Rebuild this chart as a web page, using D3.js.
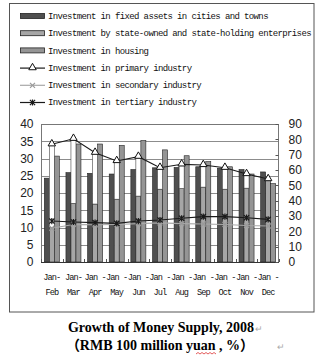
<!DOCTYPE html>
<html>
<head>
<meta charset="utf-8">
<script src="https://cdn.jsdelivr.net/npm/d3@7/dist/d3.min.js"></script>
<style>
    html, body { margin: 0; padding: 0; background: #fff; }
    svg { display: block; }
</style>
</head>
<body>
<div id="chart"></div>
<script>
/*globals d3 */
var categories = ["Jan-Feb", "Jan-Mar", "Jan-Apr", "Jan-May", "Jan-Jun", "Jan-Jul",
                  "Jan-Aug", "Jan-Sep", "Jan-Oct", "Jan-Nov", "Jan-Dec"];
var tickLine1 = ["Jan-", "Jan-", "Jan -", "Jan -", "Jan -", "Jan -",
                 "Jan -", "Jan -", "Jan -", "Jan -", "Jan -"];
var tickLine2 = ["Feb", "Mar", "Apr", "May", "Jun", "Jul",
                 "Aug", "Sep", "Oct", "Nov", "Dec"];

// bars, left axis (%)
var fixedAssets = [24.3, 25.9, 25.7, 25.5, 26.8, 27.3, 27.4, 27.6, 27.2, 26.8, 26.1];
var stateOwned  = [10.0, 17.0, 16.8, 18.2, 19.1, 21.1, 21.3, 21.7, 21.1, 21.4, 24.0];
var housing     = [30.7, 34.2, 34.2, 33.8, 35.2, 32.5, 30.8, 29.1, 27.6, 25.5, 22.7];

// lines, right axis (%)
var primary   = [76.8, 80.4, 71.3, 65.9, 68.7, 61.5, 63.7, 63.3, 61.5, 57.4, 54.1];
var secondary = [22.0, 24.5, 24.3, 24.5, 25.0, 25.5, 25.0, 24.8, 24.5, 23.8, 23.5];
var tertiary  = [26.7, 26.1, 25.7, 25.2, 26.7, 27.4, 28.5, 29.6, 29.6, 28.9, 27.8];

var leftTicks = [0, 5, 10, 15, 20, 25, 30, 35, 40];
var rightTicks = [0, 10, 20, 30, 40, 50, 60, 70, 80, 90];

var legendNames = [
    "Investment in fixed assets in cities and towns",
    "Investment by state-owned and state-holding enterprises",
    "Investment in housing",
    "Investment in primary industry",
    "Investment in secondary industry",
    "Investment in tertiary industry"
];

(function () {
    'use strict';
    var width = 324, height = 361,
        plot = {left: 41, right: 279, top: 124, bottom: 262},
        barFill = ["#4f4f4f", "#a6a6a6", "#959595"],
        barSeries = [fixedAssets, stateOwned, housing],
        mono = "'Liberation Mono', 'DejaVu Sans Mono', monospace",
        sans = "'Liberation Sans', Arial, sans-serif",
        serif = "'Liberation Serif', 'Times New Roman', 'Noto Sans CJK SC', serif",
        svg, x0, x1, y, y2, g, groups;

    svg = d3.select("#chart").append("svg")
        .attr("width", width)
        .attr("height", height);

    // outer frame
    svg.append("rect")
        .attr("x", 9.5).attr("y", 3.5)
        .attr("width", 304.5).attr("height", 308.5)
        .attr("fill", "#fff")
        .attr("stroke", "#555");

    x0 = d3.scaleBand()
        .domain(categories)
        .range([plot.left, plot.right])
        .paddingInner(0.306)
        .paddingOuter(0.153);

    x1 = d3.scaleBand()
        .domain([0, 1, 2])
        .range([0, x0.bandwidth()]);

    y = d3.scaleLinear().domain([0, 40]).range([plot.bottom, plot.top]);
    y2 = d3.scaleLinear().domain([0, 90]).range([plot.bottom, plot.top]);

    function cx(d, i) { return x0(categories[i]) + x0.bandwidth() / 2; }

    // gridlines
    svg.append("g").selectAll("line")
        .data(leftTicks.slice(1))
        .enter().append("line")
        .attr("x1", plot.left).attr("x2", plot.right)
        .attr("y1", function (d) { return Math.round(y(d)) + 0.5; })
        .attr("y2", function (d) { return Math.round(y(d)) + 0.5; })
        .attr("stroke", "#8c8c8c")
        .attr("stroke-width", 1);

    // bars
    groups = svg.append("g").selectAll("g")
        .data(categories)
        .enter().append("g")
        .attr("transform", function (d) { return "translate(" + x0(d) + ",0)"; });

    groups.selectAll("rect.bar")
        .data(function (d, i) {
            return barSeries.map(function (s, k) { return {k: k, v: s[i]}; });
        })
        .enter().append("rect")
        .attr("class", "bar")
        .attr("x", function (d) { return x1(d.k); })
        .attr("width", x1.bandwidth())
        .attr("y", function (d) { return y(d.v); })
        .attr("height", function (d) { return plot.bottom - y(d.v); })
        .attr("fill", function (d) { return barFill[d.k]; })
        .attr("stroke", "#222")
        .attr("stroke-width", 0.6);

    // white column between the state-owned bar and the primary industry marker
    groups.append("rect")
        .attr("x", x1(1))
        .attr("width", x1.bandwidth())
        .attr("y", function (d, i) { return Math.min(y2(primary[i]), y(stateOwned[i])); })
        .attr("height", function (d, i) {
            return Math.max(0, y(stateOwned[i]) - y2(primary[i]));
        })
        .attr("fill", "#fff")
        .attr("stroke", "#444")
        .attr("stroke-width", 0.6);

    // plot border and axes
    svg.append("rect")
        .attr("x", plot.left + 0.5).attr("y", plot.top + 0.5)
        .attr("width", plot.right - plot.left - 1)
        .attr("height", plot.bottom - plot.top)
        .attr("fill", "none")
        .attr("stroke", "#777");

    svg.append("line")
        .attr("x1", plot.left).attr("x2", plot.right)
        .attr("y1", plot.bottom + 0.5).attr("y2", plot.bottom + 0.5)
        .attr("stroke", "#333");

    svg.append("g").selectAll("line")
        .data(d3.range(categories.length + 1))
        .enter().append("line")
        .attr("x1", function (d) { return Math.round(plot.left + d * x0.step()) + 0.5; })
        .attr("x2", function (d) { return Math.round(plot.left + d * x0.step()) + 0.5; })
        .attr("y1", plot.bottom).attr("y2", plot.bottom - 3)
        .attr("stroke", "#555");

    svg.append("g").selectAll("line")
        .data(rightTicks)
        .enter().append("line")
        .attr("x1", plot.right - 0.5).attr("x2", plot.right - 3.5)
        .attr("y1", function (d) { return Math.round(y2(d)) + 0.5; })
        .attr("y2", function (d) { return Math.round(y2(d)) + 0.5; })
        .attr("stroke", "#555");

    svg.append("g").selectAll("text")
        .data(leftTicks)
        .enter().append("text")
        .attr("x", 33.5)
        .attr("y", function (d) { return y(d); })
        .attr("dy", "0.36em")
        .attr("text-anchor", "end")
        .style("font", "12px " + sans)
        .attr("fill", "#222")
        .text(function (d) { return d; });

    svg.append("g").selectAll("text")
        .data(rightTicks)
        .enter().append("text")
        .attr("x", 288.5)
        .attr("y", function (d) { return y2(d); })
        .attr("dy", "0.36em")
        .style("font", "12px " + sans)
        .attr("fill", "#222")
        .text(function (d) { return d; });

    // category labels, wrapped on two lines
    g = svg.append("g").selectAll("text")
        .data(categories)
        .enter().append("text")
        .attr("text-anchor", "middle")
        .style("font", "8.6px " + mono)
        .style("letter-spacing", "-0.9px")
        .attr("fill", "#111");
    g.append("tspan")
        .attr("x", cx).attr("y", 280)
        .text(function (d, i) { return tickLine1[i]; });
    g.append("tspan")
        .attr("x", cx).attr("y", 294.5)
        .text(function (d, i) { return tickLine2[i]; });

    // lines
    function drawLine(values, color) {
        svg.append("path")
            .datum(values)
            .attr("fill", "none")
            .attr("stroke", color)
            .attr("stroke-width", 1.1)
            .attr("d", d3.line()
                .x(cx)
                .y(function (d) { return y2(d); }));
    }

    function crossPath(px, py, r, star) {
        var p = "M" + (px - r) + "," + (py - r) + "L" + (px + r) + "," + (py + r) +
                "M" + (px - r) + "," + (py + r) + "L" + (px + r) + "," + (py - r);
        if (star) {
            p += "M" + px + "," + (py - r - 0.5) + "L" + px + "," + (py + r + 0.5);
        }
        return p;
    }

    drawLine(secondary, "#a8a8a8");
    svg.append("g").selectAll("path")
        .data(secondary)
        .enter().append("path")
        .attr("d", function (d, i) { return crossPath(cx(d, i), y2(d), 2.5, false); })
        .attr("stroke", "#9a9a9a")
        .attr("stroke-width", 1.2);

    drawLine(tertiary, "#1a1a1a");
    svg.append("g").selectAll("path")
        .data(tertiary)
        .enter().append("path")
        .attr("d", function (d, i) { return crossPath(cx(d, i), y2(d), 2.6, true); })
        .attr("stroke", "#1a1a1a")
        .attr("stroke-width", 1.2);

    drawLine(primary, "#1a1a1a");
    svg.append("g").selectAll("path")
        .data(primary)
        .enter().append("path")
        .attr("transform", function (d, i) {
            return "translate(" + cx(d, i) + "," + (y2(d) - 0.5) + ")";
        })
        .attr("d", d3.symbol().type(d3.symbolTriangle).size(24))
        .attr("fill", "#fff")
        .attr("stroke", "#111")
        .attr("stroke-width", 1);

    // legend
    var rows = svg.append("g").selectAll("g")
        .data(legendNames)
        .enter().append("g")
        .attr("transform", function (d, i) { return "translate(0," + (16 + i * 17.2) + ")"; });

    rows.filter(function (d, i) { return i < 3; })
        .append("rect")
        .attr("x", 20.5).attr("y", -2.5)
        .attr("width", 24).attr("height", 5)
        .attr("fill", function (d, i) { return barFill[i]; })
        .attr("stroke", "#222")
        .attr("stroke-width", 0.8);

    rows.filter(function (d, i) { return i >= 3; })
        .append("line")
        .attr("x1", 20).attr("x2", 45)
        .attr("y1", 0.5).attr("y2", 0.5)
        .attr("stroke", function (d, i) { return i === 1 ? "#a8a8a8" : "#1a1a1a"; })
        .attr("stroke-width", 1.2);

    rows.filter(function (d, i) { return i === 3; })
        .append("path")
        .attr("transform", "translate(32.5,0)")
        .attr("d", d3.symbol().type(d3.symbolTriangle).size(24))
        .attr("fill", "#fff")
        .attr("stroke", "#111");

    rows.filter(function (d, i) { return i === 4; })
        .append("path")
        .attr("d", crossPath(32.5, 0.5, 2.5, false))
        .attr("stroke", "#9a9a9a")
        .attr("stroke-width", 1.2);

    rows.filter(function (d, i) { return i === 5; })
        .append("path")
        .attr("d", crossPath(32.5, 0.5, 2.6, true))
        .attr("stroke", "#1a1a1a")
        .attr("stroke-width", 1.2);

    rows.append("text")
        .attr("x", 48)
        .attr("y", 3.2)
        .style("font", "9px " + mono)
        .style("letter-spacing", "-0.62px")
        .attr("fill", "#111")
        .text(function (d) { return d; });

    // caption below the chart
    var cap = svg.append("g")
        .style("font-family", serif)
        .style("font-weight", "bold")
        .style("font-size", "14px")
        .attr("fill", "#000");

    cap.append("text")
        .attr("x", 161).attr("y", 332)
        .attr("text-anchor", "middle")
        .text("Growth of Money Supply, 2008");
    cap.append("text")
        .attr("x", 160).attr("y", 350)
        .attr("text-anchor", "middle")
        .text("（RMB 100 million yuan , %）");

    svg.append("text").attr("x", 255).attr("y", 332)
        .style("font", "9px " + sans).attr("fill", "#aaa").text("↵");
    svg.append("text").attr("x", 277).attr("y", 350)
        .style("font", "9px " + sans).attr("fill", "#aaa").text("↵");

    // spell-check squiggle under "yuan"
    svg.append("path")
        .attr("d", d3.range(196, 218, 2).map(function (px, k) {
            return (k ? "L" : "M") + px + "," + (k % 2 ? 352.5 : 354);
        }).join(""))
        .attr("fill", "none")
        .attr("stroke", "#d33")
        .attr("stroke-width", 0.8);
}());
</script>
</body>
</html>
